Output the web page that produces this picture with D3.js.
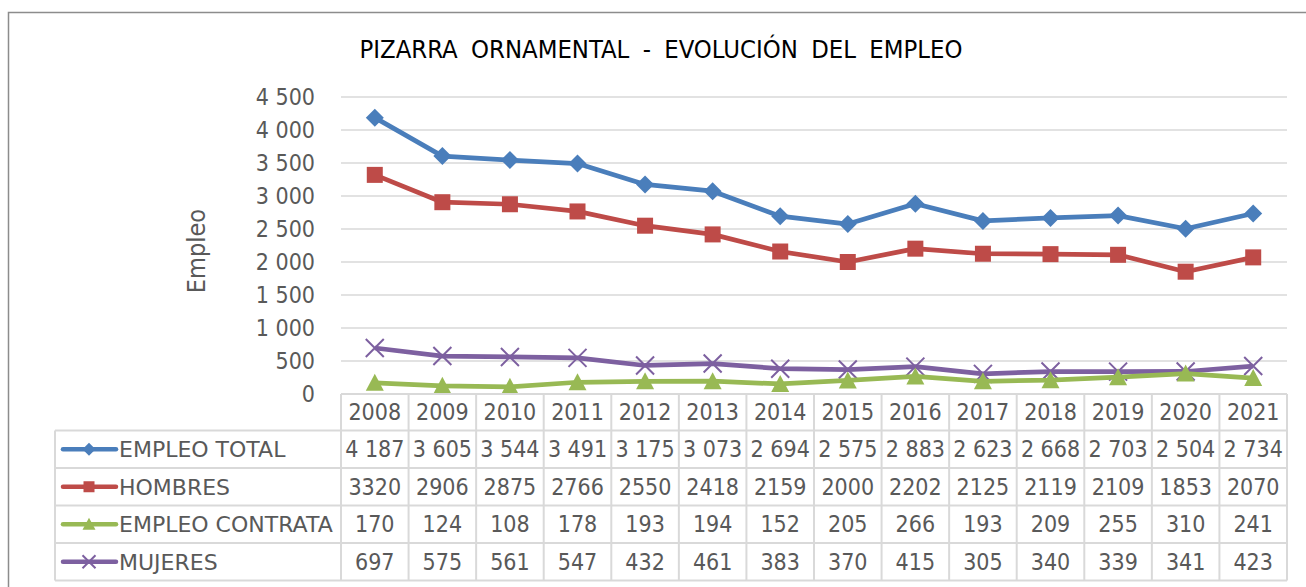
<!DOCTYPE html>
<html>
<head>
<meta charset="utf-8">
<script src="https://cdn.jsdelivr.net/npm/d3@7"></script>
<style>
  html, body { margin: 0; padding: 0; background: #fff; }
  svg { display: block; }
  text { font-family: "DejaVu Sans Condensed", "DejaVu Sans", sans-serif; }
</style>
</head>
<body>
<div id="chart"></div>
<script>
// Pizarra ornamental - evolución del empleo (Excel line chart with data table)

const years = ["2008", "2009", "2010", "2011", "2012", "2013", "2014", "2015", "2016", "2017", "2018", "2019", "2020", "2021"];
const empleoTotal = [4187, 3605, 3544, 3491, 3175, 3073, 2694, 2575, 2883, 2623, 2668, 2703, 2504, 2734];
const hombres = [3320, 2906, 2875, 2766, 2550, 2418, 2159, 2000, 2202, 2125, 2119, 2109, 1853, 2070];
const empleoContrata = [170, 124, 108, 178, 193, 194, 152, 205, 266, 193, 209, 255, 310, 241];
const mujeres = [697, 575, 561, 547, 432, 461, 383, 370, 415, 305, 340, 339, 341, 423];
const yTicks = [0, 500, 1000, 1500, 2000, 2500, 3000, 3500, 4000, 4500];

const series = [
    { name: "EMPLEO TOTAL", values: empleoTotal, color: "#4A7EBB", marker: "diamond", spaced: true },
    { name: "HOMBRES", values: hombres, color: "#BE4B48", marker: "square", spaced: false },
    { name: "EMPLEO CONTRATA", values: empleoContrata, color: "#98B954", marker: "triangle", spaced: false },
    { name: "MUJERES", values: mujeres, color: "#7D60A0", marker: "cross", spaced: false }
];

const width = 1306;
const height = 587;
const plot = { left: 341, right: 1287, top: 97, bottom: 394 };
const table = { keyLeft: 55, rowH: 37.5, headerH: 36.5 };
const textColor = "#595959";
const gridColor = "#D9D9D9";
const fontSize = 23;

const svg = d3.select("#chart")
    .append("svg")
    .attr("width", width)
    .attr("height", height);

// outer chart border (right and bottom run off the picture)
svg.append("rect")
    .attr("x", 8.5).attr("y", 12.5)
    .attr("width", 1320).attr("height", 620)
    .attr("fill", "none")
    .attr("stroke", "#8C8C8C")
    .attr("stroke-width", 1.5);

const x = d3.scaleBand()
    .domain(years)
    .range([plot.left, plot.right]);

const y = d3.scaleLinear()
    .domain([0, 4500])
    .range([plot.bottom, plot.top]);

// gridlines
svg.append("g")
    .selectAll("line")
    .data(yTicks.filter(d => d > 0))
    .join("line")
    .attr("x1", plot.left).attr("x2", plot.right)
    .attr("y1", d => y(d)).attr("y2", d => y(d))
    .attr("stroke", gridColor)
    .attr("stroke-width", 1.5);

// y axis labels (thousands separated by a space)
const fmt = d => d3.format(",")(d).replace(/,/g, " ");
const yAxis = d3.axisLeft(y).tickValues(yTicks).tickFormat(fmt).tickSize(0).tickPadding(26);
svg.append("g")
    .attr("transform", `translate(${plot.left},0)`)
    .call(yAxis)
    .call(g => g.select(".domain").remove())
    .selectAll("text")
    .attr("font-size", fontSize)
    .attr("fill", textColor)
    .style("font-family", "\"DejaVu Sans Condensed\", \"DejaVu Sans\", sans-serif");

svg.append("text")
    .attr("transform", "rotate(-90)")
    .attr("x", -251)
    .attr("y", 205)
    .attr("text-anchor", "middle")
    .attr("font-size", 25)
    .attr("fill", textColor)
    .text("Empleo");

// title
svg.append("text")
    .attr("x", 661)
    .attr("y", 58)
    .attr("text-anchor", "middle")
    .attr("font-size", 25)
    .attr("fill", "#000")
    .attr("textLength", 603)
    .attr("lengthAdjust", "spacingAndGlyphs")
    .style("font-family", "\"Liberation Sans Narrow\", \"DejaVu Sans Condensed\", sans-serif")
    .style("word-spacing", "6px")
    .text("PIZARRA ORNAMENTAL - EVOLUCIÓN DEL EMPLEO");

// markers
function drawMarker(g, type, color, size) {
    const s = size / 2;
    if (type === "diamond") {
        g.append("path").attr("d", `M0,${-s}L${s},0L0,${s}L${-s},0Z`).attr("fill", color);
    } else if (type === "square") {
        g.append("rect").attr("x", -s + 1).attr("y", -s + 1).attr("width", size - 2).attr("height", size - 2).attr("fill", color);
    } else if (type === "triangle") {
        g.append("path").attr("d", `M0,${-s}L${s},${s - 1}L${-s},${s - 1}Z`).attr("fill", color);
    } else {
        g.append("path").attr("d", `M${-s},${-s}L${s},${s}M${s},${-s}L${-s},${s}`)
            .attr("stroke", color).attr("stroke-width", 2).attr("fill", "none");
    }
}

const line = d3.line()
    .x((d, i) => x(years[i]) + x.bandwidth() / 2)
    .y(d => y(d));

// draw in Excel's order with total on top
[...series].reverse().forEach(s => {
    const g = svg.append("g");
    g.append("path")
        .datum(s.values)
        .attr("d", line)
        .attr("fill", "none")
        .attr("stroke", s.color)
        .attr("stroke-width", 4.75)
        .attr("stroke-linejoin", "round");
    g.selectAll("g.pt")
        .data(s.values)
        .join("g")
        .attr("class", "pt")
        .attr("transform", (d, i) => `translate(${x(years[i]) + x.bandwidth() / 2},${y(d)})`)
        .each(function () { drawMarker(d3.select(this), s.marker, s.color, 18); });
});

// data table
const tbl = svg.append("g");
const headerTop = plot.bottom;
const rowsTop = headerTop + table.headerH;
const rowsBottom = rowsTop + series.length * table.rowH;

// horizontal rules
tbl.append("line")
    .attr("x1", plot.left).attr("x2", plot.right)
    .attr("y1", headerTop).attr("y2", headerTop)
    .attr("stroke", gridColor).attr("stroke-width", 2);
series.forEach((s, i) => {
    tbl.append("line")
        .attr("x1", table.keyLeft).attr("x2", plot.right)
        .attr("y1", rowsTop + i * table.rowH).attr("y2", rowsTop + i * table.rowH)
        .attr("stroke", gridColor).attr("stroke-width", 2);
});
tbl.append("line")
    .attr("x1", table.keyLeft).attr("x2", plot.right)
    .attr("y1", rowsBottom).attr("y2", rowsBottom)
    .attr("stroke", gridColor).attr("stroke-width", 2);

// vertical rules
years.concat(["end"]).forEach((yr, i) => {
    const xv = i < years.length ? x(yr) : plot.right;
    tbl.append("line")
        .attr("x1", xv).attr("x2", xv)
        .attr("y1", headerTop).attr("y2", rowsBottom)
        .attr("stroke", gridColor).attr("stroke-width", 2);
});
tbl.append("line")
    .attr("x1", table.keyLeft).attr("x2", table.keyLeft)
    .attr("y1", rowsTop).attr("y2", rowsBottom)
    .attr("stroke", gridColor).attr("stroke-width", 2);

// year header
tbl.selectAll("text.year")
    .data(years)
    .join("text")
    .attr("class", "year")
    .attr("x", d => x(d) + x.bandwidth() / 2)
    .attr("y", headerTop + table.headerH / 2 + 8)
    .attr("text-anchor", "middle")
    .attr("font-size", fontSize)
    .attr("fill", textColor)
    .text(d => d);

// rows
series.forEach((s, i) => {
    const cy = rowsTop + i * table.rowH + table.rowH / 2;
    const key = tbl.append("g").attr("transform", `translate(0,${cy})`);
    key.append("line")
        .attr("x1", 63).attr("x2", 116)
        .attr("stroke", s.color).attr("stroke-width", 4.5)
        .attr("stroke-linecap", "round");
    const mk = key.append("g").attr("transform", "translate(89,0)");
    drawMarker(mk, s.marker, s.color, 13);
    key.append("text")
        .attr("x", 119)
        .attr("y", 8)
        .attr("font-size", 22)
        .attr("fill", textColor)
        .style("font-family", "\"DejaVu Sans\", sans-serif")
        .text(s.name);

    tbl.selectAll(null)
        .data(s.values)
        .join("text")
        .attr("x", (d, j) => x(years[j]) + x.bandwidth() / 2)
        .attr("y", cy + 8)
        .attr("text-anchor", "middle")
        .attr("font-size", fontSize)
        .attr("fill", textColor)
        .text(d => s.spaced ? fmt(d) : String(d));
});
</script>
</body>
</html>
